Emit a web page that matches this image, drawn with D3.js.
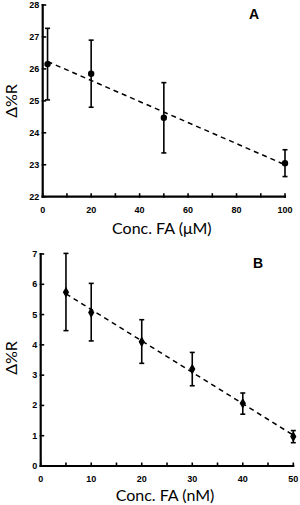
<!DOCTYPE html>
<html><head><meta charset="utf-8">
<script src="https://cdn.jsdelivr.net/npm/d3@7"></script>
<style>html,body{margin:0;padding:0;background:#fff;}svg{display:block;}</style>
</head><body>
<script>
// Panel A data (µM)
const concA = [2, 20, 50, 100];
const valA = [26.15, 25.85, 24.47, 23.05];
const errUpA = [1.12, 1.05, 1.1, 0.42];
const errDnA = [1.12, 1.05, 1.1, 0.42];
const xTicksA = [0, 20, 40, 60, 80, 100];
const yTicksA = [22, 23, 24, 25, 26, 27, 28];

// Panel B data (nM)
const concB = [5, 10, 20, 30, 40, 50];
const valB = [5.74, 5.07, 4.10, 3.20, 2.07, 0.97];
const errUpB = [1.28, 0.96, 0.73, 0.55, 0.34, 0.2];
const errDnB = [1.27, 0.94, 0.71, 0.55, 0.36, 0.2];
const xTicksB = [0, 10, 20, 30, 40, 50];
const yTicksB = [0, 1, 2, 3, 4, 5, 6, 7];

const W = 300, H = 505;
const svg = d3.select("body").append("svg").attr("width", W).attr("height", H);

function fit(xs, ys) {
  const n = xs.length, mx = d3.mean(xs), my = d3.mean(ys);
  let sxy = 0, sxx = 0;
  for (let i = 0; i < n; i++) { sxy += (xs[i]-mx)*(ys[i]-my); sxx += (xs[i]-mx)**2; }
  const b = sxy/sxx; return {b, a: my - b*mx};
}

function panel(o) {
  const g = svg.append("g");
  const x = d3.scaleLinear().domain(o.xd).range(o.xr);
  const y = d3.scaleLinear().domain(o.yd).range(o.yr);
  const tickFont = "bold 9px 'Liberation Sans', Arial, sans-serif";

  // minor x ticks
  const xt = d3.range(o.xd[0], o.xd[1] + 1e-9, o.xMinor);
  g.selectAll(".xt").data(xt).join("line")
    .attr("x1", d => x(d)).attr("x2", d => x(d))
    .attr("y1", o.yr[0] + 1).attr("y2", o.yr[0] - 3.5)
    .attr("stroke", "#000").attr("stroke-width", 1.6);
  g.selectAll(".yt").data(o.yTicks).join("line")
    .attr("x1", o.xr[0] - 1).attr("x2", o.xr[0] + 3.5)
    .attr("y1", d => y(d)).attr("y2", d => y(d))
    .attr("stroke", "#000").attr("stroke-width", 1.6);

  // axis lines
  g.append("line").attr("x1", o.xr[0]).attr("x2", o.xr[0])
    .attr("y1", o.yr[0] + 1).attr("y2", o.yr[1] - 1)
    .attr("stroke", "#000").attr("stroke-width", 2.2);
  g.append("line").attr("x1", o.xr[0] - 1).attr("x2", o.xr[1] + 1)
    .attr("y1", o.yr[0]).attr("y2", o.yr[0])
    .attr("stroke", "#000").attr("stroke-width", 2.2);

  // tick labels
  g.selectAll(".xl").data(o.xTicks).join("text")
    .attr("x", d => x(d)).attr("y", o.yr[0] + o.xlabOff)
    .attr("text-anchor", "middle").style("font", tickFont).text(d => d);
  g.selectAll(".yl").data(o.yTicks).join("text")
    .attr("x", o.xr[0] - 3.5).attr("y", d => y(d) + 3)
    .attr("text-anchor", "end").style("font", tickFont).text(d => d);

  // trend line
  const f = fit(o.cx, o.cy);
  const x0 = d3.min(o.cx), x1 = d3.max(o.cx);
  g.append("line")
    .attr("x1", x(x0)).attr("y1", y(f.a + f.b*x0))
    .attr("x2", x(x1)).attr("y2", y(f.a + f.b*x1))
    .attr("stroke", "#000").attr("stroke-width", 1.5)
    .attr("stroke-dasharray", "5,4");

  // error bars
  const idx = d3.range(o.cx.length);
  g.selectAll(".eb").data(idx).join("line")
    .attr("x1", i => x(o.cx[i])).attr("x2", i => x(o.cx[i]))
    .attr("y1", i => y(o.cy[i] + o.eu[i])).attr("y2", i => y(o.cy[i] - o.ed[i]))
    .attr("stroke", "#000").attr("stroke-width", 1.6);
  [[o.eu, 1], [o.ed, -1]].forEach(([e, s]) => {
    g.selectAll(null).data(idx).join("line")
      .attr("x1", i => x(o.cx[i]) - 2.5).attr("x2", i => x(o.cx[i]) + 2.5)
      .attr("y1", i => y(o.cy[i] + s*e[i])).attr("y2", i => y(o.cy[i] + s*e[i]))
      .attr("stroke", "#000").attr("stroke-width", 1.6);
  });

  // markers
  if (o.marker === "circle") {
    g.selectAll(".pt").data(idx).join("circle")
      .attr("cx", i => x(o.cx[i])).attr("cy", i => y(o.cy[i])).attr("r", 3.2)
      .attr("fill", "#000");
  } else {
    const sym = d3.symbol().type(d3.symbolDiamond).size(34);
    g.selectAll(".pt").data(idx).join("path")
      .attr("transform", i => `translate(${x(o.cx[i])},${y(o.cy[i])})`)
      .attr("d", sym).attr("fill", "#000");
  }

  // axis titles
  const titleFont = "16px Lato, 'Open Sans', sans-serif";
  g.append("text").attr("x", (o.xr[0] + o.xr[1]) / 2 - 2).attr("y", o.xTitleY)
    .attr("text-anchor", "middle").style("font", titleFont).text(o.xTitle);
  g.append("text")
    .attr("transform", `translate(${o.yTitleX},${o.yTitleY}) rotate(-90)`)
    .attr("text-anchor", "middle").style("font", titleFont).text("Δ%R");

  // panel letter
  g.append("text").attr("x", o.letterX).attr("y", o.letterY)
    .attr("text-anchor", "middle")
    .style("font", "bold 14px 'Liberation Sans', Arial, sans-serif").text(o.letter);
}

panel({
  xd: [0, 100], xr: [42.7, 285], yd: [22, 28], yr: [196.7, 5],
  xMinor: 10, xTicks: xTicksA, yTicks: yTicksA, xlabOff: 16.5,
  cx: concA, cy: valA, eu: errUpA, ed: errDnA, marker: "circle",
  xTitle: "Conc. FA (μM)", xTitleY: 234, yTitleX: 17, yTitleY: 101,
  letter: "A", letterX: 254, letterY: 18.5
});
panel({
  xd: [0, 50], xr: [40.7, 293.3], yd: [0, 7], yr: [466, 254],
  xMinor: 5, xTicks: xTicksB, yTicks: yTicksB, xlabOff: 15.7,
  cx: concB, cy: valB, eu: errUpB, ed: errDnB, marker: "diamond",
  xTitle: "Conc. FA (nM)", xTitleY: 501, yTitleX: 17, yTitleY: 358,
  letter: "B", letterX: 258, letterY: 268
});
</script>
</body></html>
